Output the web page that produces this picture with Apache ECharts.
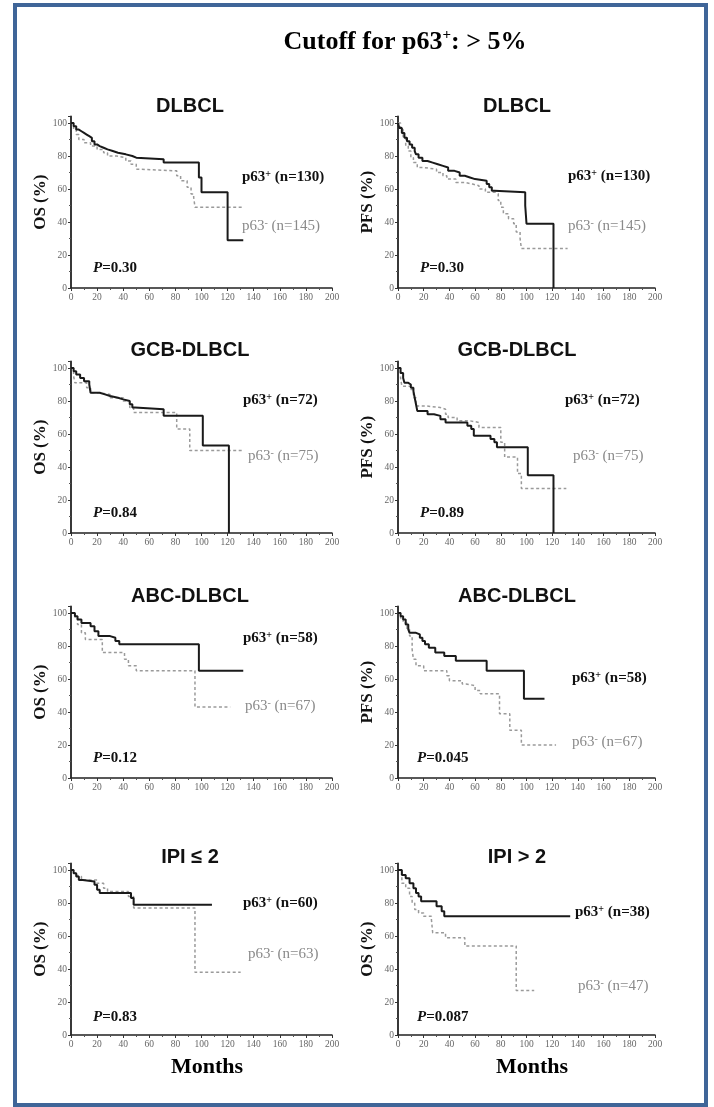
<!DOCTYPE html>
<html>
<head>
<meta charset="utf-8">
<script src="https://cdn.jsdelivr.net/npm/echarts@6/dist/echarts.min.js"></script>
<style>
html, body { margin: 0; padding: 0; background: #fff; }
#main { width: 714px; height: 1107px; }
</style>
</head>
<body>
<div id="main"></div>
<script>
// panel info
const panelTitles = ['DLBCL', 'DLBCL', 'GCB-DLBCL', 'GCB-DLBCL', 'ABC-DLBCL', 'ABC-DLBCL', 'IPI ≤ 2', 'IPI > 2']
const endpoints = ['OS', 'PFS', 'OS', 'PFS', 'OS', 'PFS', 'OS', 'OS']
const nPos = [130, 130, 72, 72, 58, 58, 60, 38]
const nNeg = [145, 145, 75, 75, 67, 67, 63, 47]
const pValues = ['0.30', '0.30', '0.84', '0.89', '0.12', '0.045', '0.83', '0.087']

// Kaplan-Meier curves: [month, survival %]
const dlbclOsPos = [[0,100],[2,98],[4,96],[6,95],[8,94],[10,93],[12,92],[14,91],[16,89],[18,87],[20,86],[22,85],[25,84],[28,83],[32,82],[36,81],[42,80],[47,79],[50,78],[71,76],[98,67],[100,58],[120,29],[132,29]]
const dlbclOsNeg = [[0,100],[2,96],[4,93],[6,90],[10,88],[15,86],[20,84],[25,82],[28,80],[35,79],[42,77],[46,75],[50,72],[53,71],[81,68],[84,65],[89,61],[92,57],[94,55],[95,49],[131,49]]
const dlbclPfsPos = [[0,100],[1,97],[3,94],[5,91],[7,89],[9,87],[11,85],[13,83],[14,81],[16,79],[19,77],[23,76],[27,75],[31,74],[35,73],[39,71],[44,70],[48,68],[52,67],[56,66],[60,65],[69,63],[71,61],[73,59],[75,58],[99,50],[100,39],[121,0]]
const dlbclPfsNeg = [[0,100],[2,96],[4,91],[6,86],[8,83],[10,79],[12,76],[15,73],[20,72],[30,70],[35,68],[38,66],[45,64],[52,63],[58,62],[63,60],[68,58],[76,57],[78,53],[80,49],[82,45],[86,42],[90,39],[92,34],[95,30],[96,24],[132,24]]
const gcbOsPos = [[0,100],[2,98],[4,96],[7,94],[10,92],[14,90],[15,85],[22,84],[26,83],[30,82],[36,81],[40,80],[45,78],[47,76],[49,75],[71,71],[101,53],[121,0]]
const gcbOsNeg = [[0,100],[2,95],[3,91],[12,88],[15,85],[22,84],[30,82],[40,80],[45,76],[48,73],[81,63],[91,50],[131,50]]
const gcbPfsPos = [[0,100],[2,97],[4,94],[5,91],[8,90],[10,88],[12,86],[13,82],[14,78],[15,74],[20,74],[23,72],[28,71],[33,69],[37,67],[54,65],[57,63],[59,59],[72,57],[75,55],[77,52],[101,35],[121,0]]
const gcbPfsNeg = [[0,100],[2,94],[3,89],[10,87],[12,82],[14,77],[22,76],[33,75],[37,72],[39,70],[46,68],[56,67],[63,64],[80,55],[83,46],[93,36],[96,27],[131,27]]
const abcOsPos = [[0,100],[3,98],[5,96],[8,94],[15,92],[18,89],[21,86],[30,85],[34,83],[37,81],[98,65],[132,65]]
const abcOsNeg = [[0,100],[3,97],[5,93],[8,88],[11,84],[24,76],[41,72],[44,68],[50,65],[95,43],[122,43]]
const abcPfsPos = [[0,100],[2,98],[4,96],[6,93],[8,90],[9,88],[14,87],[17,85],[19,83],[21,81],[24,79],[29,76],[36,74],[45,71],[69,65],[98,48],[114,48]]
const abcPfsNeg = [[0,100],[2,97],[4,94],[7,90],[9,86],[11,78],[12,72],[14,68],[20,65],[38,62],[40,59],[50,57],[53,56],[60,53],[64,51],[79,39],[87,29],[96,20],[123,20]]
const ipiLowPos = [[0,100],[2,98],[4,96],[6,94],[9,93],[18,91],[20,88],[22,86],[46,83],[48,79],[108,79]]
const ipiLowNeg = [[0,100],[2,98],[5,96],[8,94],[20,92],[25,89],[28,87],[44,84],[48,77],[95,38],[130,38]]
const ipiHighPos = [[0,100],[3,97],[6,95],[9,92],[12,89],[14,86],[16,84],[18,81],[30,78],[34,75],[36,72],[134,72]]
const ipiHighNeg = [[0,100],[3,92],[6,89],[9,84],[11,80],[13,76],[16,74],[20,72],[26,70],[27,62],[37,59],[52,54],[92,27],[106,27]]

const posCurves = [dlbclOsPos, dlbclPfsPos, gcbOsPos, gcbPfsPos, abcOsPos, abcPfsPos, ipiLowPos, ipiHighPos]
const negCurves = [dlbclOsNeg, dlbclPfsNeg, gcbOsNeg, gcbPfsNeg, abcOsNeg, abcPfsNeg, ipiLowNeg, ipiHighNeg]

// layout (pixels)
const rowTop = [123, 368, 613, 870]   // y of 100%
const rowH = 165                       // px for 100%
const colLeft = [71, 398]
const colW = [261, 257]
const titleX = [190, 517]
const titleY = [106, 350, 596, 857]
const posLabelXY = [[242,177],[568,176],[243,400],[565,400],[243,638],[572,678],[243,903],[575,912]]
const negLabelXY = [[242,226],[568,226],[248,456],[573,456],[245,706],[572,742],[248,954],[578,986]]
const pLabelXY = [[93,268],[420,268],[93,513],[420,513],[93,758],[417,758],[93,1017],[417,1017]]

const serif = '"Liberation Serif", "Times New Roman", serif'
const sans = '"Liberation Sans", Arial, sans-serif'

const chart = echarts.init(document.getElementById('main'))

const grid = [], xAxis = [], yAxis = [], series = [], graphic = []
const yMax = 104

for (let i = 0; i < 8; i++) {
  const col = i % 2, row = Math.floor(i / 2)
  const unit = rowH / 100
  grid.push({
    left: colLeft[col],
    width: colW[col],
    top: rowTop[row] - (yMax - 100) * unit,
    height: yMax * unit
  })
  xAxis.push({
    type: 'value', gridIndex: i, min: 0, max: 200, interval: 20,
    axisLine: { lineStyle: { color: '#222', width: 1.5 } },
    axisTick: { length: 3, lineStyle: { color: '#333' } },
    minorTick: { show: true, splitNumber: 2, length: 2, lineStyle: { color: '#555' } },
    splitLine: { show: false },
    axisLabel: { margin: 4, color: '#666', fontFamily: serif, fontSize: 9.5 }
  })
  yAxis.push({
    type: 'value', gridIndex: i, min: 0, max: yMax, interval: 20,
    name: endpoints[i] + ' (%)', nameLocation: 'middle', nameGap: 19,
    nameTextStyle: { fontFamily: serif, fontWeight: 'bold', fontSize: 17, color: '#111' },
    axisLine: { lineStyle: { color: '#222', width: 1.8 } },
    axisTick: { length: 3, lineStyle: { color: '#333' } },
    minorTick: { show: true, splitNumber: 2, length: 2, lineStyle: { color: '#555' } },
    splitLine: { show: false },
    axisLabel: { margin: 4, color: '#666', fontFamily: serif, fontSize: 9.5, showMaxLabel: false }
  })
  series.push({
    type: 'line', xAxisIndex: i, yAxisIndex: i, step: 'end', showSymbol: false,
    data: negCurves[i], z: 2,
    lineStyle: { color: '#9a9a9a', width: 1.5, type: [3, 2.5] }
  })
  series.push({
    type: 'line', xAxisIndex: i, yAxisIndex: i, step: 'end', showSymbol: false,
    data: posCurves[i], z: 3,
    lineStyle: { color: '#1a1a1a', width: 2 }
  })

  graphic.push({
    type: 'text', x: titleX[col], y: titleY[row],
    style: { text: panelTitles[i], font: 'bold 20px ' + sans, fill: '#111', align: 'center', verticalAlign: 'middle' }
  })
  graphic.push({
    type: 'text', x: posLabelXY[i][0], y: posLabelXY[i][1],
    style: {
      text: '{a|p63}{s|+}{a| (n=' + nPos[i] + ')}',
      font: 'bold 15px ' + serif, fill: '#111', align: 'left', verticalAlign: 'middle',
      rich: {
        a: { font: 'bold 15px ' + serif, fill: '#111', lineHeight: 16 },
        s: { font: 'bold 10px ' + serif, fill: '#111', lineHeight: 9, verticalAlign: 'top' }
      }
    }
  })
  graphic.push({
    type: 'text', x: negLabelXY[i][0], y: negLabelXY[i][1],
    style: {
      text: '{a|p63}{s|-}{a| (n=' + nNeg[i] + ')}',
      font: '15px ' + serif, fill: '#8a8a8a', align: 'left', verticalAlign: 'middle',
      rich: {
        a: { font: '15px ' + serif, fill: '#8a8a8a', lineHeight: 16 },
        s: { font: '10px ' + serif, fill: '#8a8a8a', lineHeight: 9, verticalAlign: 'top' }
      }
    }
  })
  graphic.push({
    type: 'text', x: pLabelXY[i][0], y: pLabelXY[i][1],
    style: {
      text: '{i|P}{a|=' + pValues[i] + '}',
      font: 'bold 15px ' + serif, fill: '#111', align: 'left', verticalAlign: 'middle',
      rich: {
        i: { font: 'italic bold 15px ' + serif, fill: '#111' },
        a: { font: 'bold 15px ' + serif, fill: '#111' }
      }
    }
  })
}

// frame, main title, x-axis names
graphic.push({
  type: 'rect', shape: { x: 15, y: 5, width: 691, height: 1100 },
  style: { fill: 'none', stroke: '#3f6598', lineWidth: 4 }
})
graphic.push({
  type: 'text', x: 405, y: 42,
  style: {
    text: '{a|Cutoff for p63}{s|+}{a|: > 5%}',
    font: 'bold 26px ' + serif, fill: '#000', align: 'center', verticalAlign: 'middle',
    rich: {
      a: { font: 'bold 26px ' + serif, fill: '#000', lineHeight: 28 },
      s: { font: 'bold 15px ' + serif, fill: '#000', lineHeight: 14, verticalAlign: 'top' }
    }
  }
})
graphic.push({
  type: 'text', x: 207, y: 1067,
  style: { text: 'Months', font: 'bold 22px ' + serif, fill: '#000', align: 'center', verticalAlign: 'middle' }
})
graphic.push({
  type: 'text', x: 532, y: 1067,
  style: { text: 'Months', font: 'bold 22px ' + serif, fill: '#000', align: 'center', verticalAlign: 'middle' }
})

chart.setOption({
  animation: false,
  backgroundColor: '#fff',
  grid: grid,
  xAxis: xAxis,
  yAxis: yAxis,
  series: series,
  graphic: graphic
})
</script>
</body>
</html>
